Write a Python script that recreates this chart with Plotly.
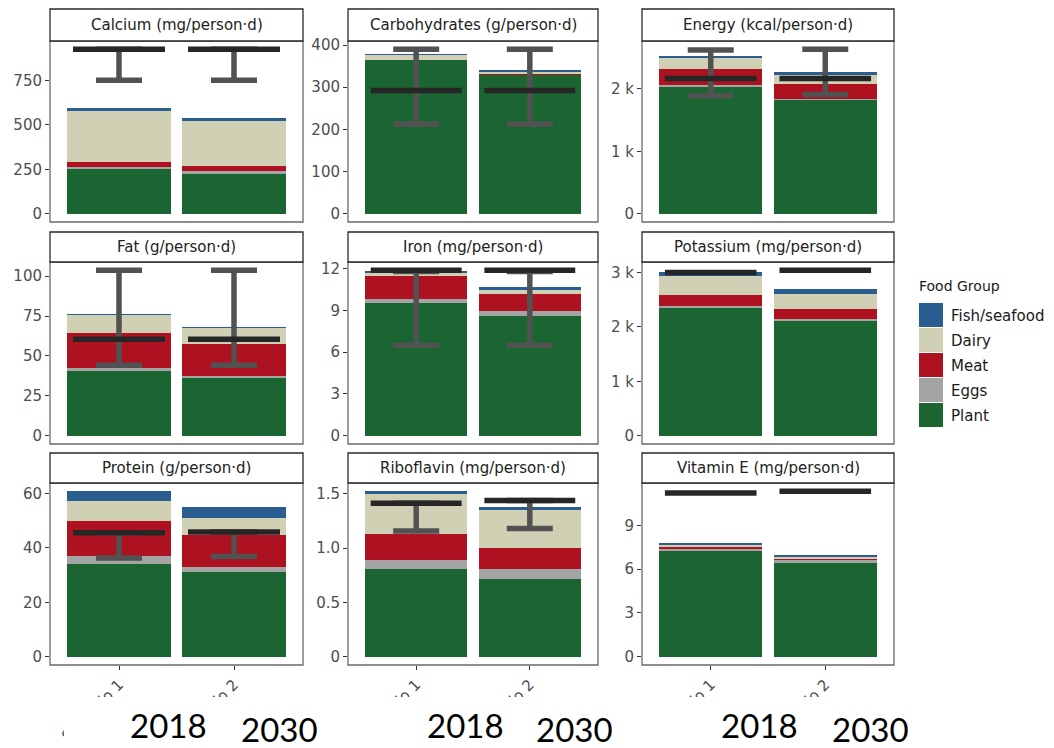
import plotly.graph_objects as go

W, H = 1054, 748

# Nutrient panels, in facet order (left to right, top to bottom)
NUTRIENTS = [
    "Calcium (mg/person·d)", "Carbohydrates (g/person·d)", "Energy (kcal/person·d)",
    "Fat (g/person·d)", "Iron (mg/person·d)", "Potassium (mg/person·d)",
    "Protein (g/person·d)", "Riboflavin (mg/person·d)", "Vitamin E (mg/person·d)",
]
SCENARIOS = ["Scenario 1", "Scenario 2"]
YEARS = ["2018", "2030"]

# Supply per food group, (scenario 1, scenario 2) for each nutrient
PLANT = [(257, 229), (365, 330), (2025, 1825), (40.4, 36.3), (9.5, 8.6),
         (2343, 2117), (34.0, 31.0), (0.805, 0.716), (7.25, 6.44)]
EGGS = [(6, 9), (0.2, 0.3), (38, 21), (2.1, 1.3), (0.3, 0.36),
        (37, 31), (2.9, 1.9), (0.085, 0.092), (0.12, 0.23)]
MEAT = [(30, 28), (0.2, 0.4), (248, 227), (21.8, 19.9), (1.68, 1.21),
        (206, 177), (13.0, 11.8), (0.238, 0.192), (0.2, 0.09)]
DAIRY = [(285, 257), (12, 7.5), (191, 154), (11.6, 10.3), (0.2, 0.29),
         (352, 279), (7.3, 6.4), (0.372, 0.347), (0.09, 0.08)]
FISH = [(15, 13), (0.4, 3), (15, 48), (0.3, 0.3), (0.15, 0.23),
        (73, 86), (3.6, 3.8), (0.024, 0.031), (0.1, 0.12)]

# Requirement (dark bar) and requirement range (grey error bar)
REQUIREMENT = [(925, 925), (292, 292), (2168, 2168), (60.4, 60.4), (11.88, 11.88),
               (3000, 3042), (45.6, 45.8), (1.414, 1.439), (11.22, 11.33)]
REQ_LOW = [(750, 750), (212, 212), (1889, 1910), (44.2, 44.2), (6.49, 6.49),
           (None, None), (36.3, 36.8), (1.158, 1.18), (None, None)]
REQ_HIGH = [(925, 925), (390, 390), (2624, 2635), (103.7, 103.7), (11.8, 11.8),
            (None, None), (45.6, 45.8), (1.414, 1.439), (None, None)]

# Y tick values and labels per panel
TICK_VALS = [[0, 250, 500, 750], [0, 100, 200, 300, 400], [0, 1000, 2000],
             [0, 25, 50, 75, 100], [0, 3, 6, 9, 12], [0, 1000, 2000, 3000],
             [0, 20, 40, 60], [0, 0.5, 1.0, 1.5], [0, 3, 6, 9]]
TICK_TEXT = [["0", "250", "500", "750"], ["0", "100", "200", "300", "400"],
             ["0", "1 k", "2 k"], ["0", "25", "50", "75", "100"],
             ["0", "3", "6", "9", "12"], ["0", "1 k", "2 k", "3 k"],
             ["0", "20", "40", "60"], ["0", "0.5", "1.0", "1.5"], ["0", "3", "6", "9"]]

GROUPS = ["Plant", "Eggs", "Meat", "Dairy", "Fish/seafood"]
GROUP_DATA = [PLANT, EGGS, MEAT, DAIRY, FISH]
GROUP_COLORS = ["#1a6532", "#a4a4a4", "#ae111f", "#d0d0b5", "#2a5d90"]
LEGEND_ORDER = ["Fish/seafood", "Dairy", "Meat", "Eggs", "Plant"]

# Panel geometry in pixels
COL_X = [(50, 303), (348, 598), (642, 894)]
ROW_Y = [(41, 222), (262, 444), (483, 665)]
STRIP_Y = [(9, 41), (232, 262), (453, 483)]

FONT = "DejaVu Sans"
X_POS = [1, 2]
BAR_W = 0.9
REQ_HALF = 0.4


def px(x):
    return x / W


def py(y):
    return 1 - y / H


fig = go.Figure()
layout = dict(
    width=W, height=H, margin=dict(l=0, r=0, t=0, b=0, autoexpand=False),
    paper_bgcolor="white", plot_bgcolor="white",
    barmode="stack", showlegend=False,
    shapes=[], annotations=[],
)

for i, name in enumerate(NUTRIENTS):
    r, c = divmod(i, 3)
    n = "" if i == 0 else str(i + 1)
    xa, ya = "x" + n, "y" + n

    for g, data, col in zip(GROUPS, GROUP_DATA, GROUP_COLORS):
        fig.add_trace(go.Bar(
            x=X_POS, y=list(data[i]), width=BAR_W, name=g,
            marker=dict(color=col, line=dict(width=0)),
            xaxis=xa, yaxis=ya,
        ))

    totals = [sum(d[i][k] for d in GROUP_DATA) for k in range(2)]
    tops = totals + list(REQUIREMENT[i]) + [v for v in REQ_HIGH[i] if v is not None]
    top = max(tops)

    # requirement range as error bars
    ex, ey, eh = [], [], []
    for k in range(2):
        lo, hi = REQ_LOW[i][k], REQ_HIGH[i][k]
        if lo is None:
            continue
        ex.append(X_POS[k])
        ey.append((lo + hi) / 2)
        eh.append((hi - lo) / 2)
    if ex:
        fig.add_trace(go.Scatter(
            x=ex, y=ey, mode="markers", marker=dict(size=1, opacity=0),
            error_y=dict(type="data", array=eh, visible=True, color="#525252",
                         thickness=5.5, width=23),
            xaxis=xa, yaxis=ya, hoverinfo="skip",
        ))

    # requirement level as a wide dark bar
    sx, sy = [], []
    for k in range(2):
        v = REQUIREMENT[i][k]
        sx += [X_POS[k] - REQ_HALF, X_POS[k] + REQ_HALF, None]
        sy += [v, v, None]
    fig.add_trace(go.Scatter(
        x=sx, y=sy, mode="lines", line=dict(color="#262626", width=5.5),
        xaxis=xa, yaxis=ya, hoverinfo="skip",
    ))

    x0, x1 = COL_X[c]
    y0, y1 = ROW_Y[r]
    layout["xaxis" + n] = dict(
        domain=[px(x0), px(x1)], anchor=ya, range=[0.4, 2.6],
        tickvals=X_POS, ticktext=SCENARIOS, automargin=False,
        showticklabels=(r == 2), ticks="outside" if r == 2 else "",
        ticklen=4, tickcolor="#333333", tickangle=-45,
        tickfont=dict(family=FONT, size=15, color="#4d4d4d"),
        showgrid=False, zeroline=False, showline=False,
    )
    layout["yaxis" + n] = dict(
        domain=[py(y1), py(y0)], anchor=xa, range=[-0.05 * top, 1.05 * top],
        tickvals=TICK_VALS[i], ticktext=TICK_TEXT[i], automargin=False,
        ticks="outside", ticklen=4, tickcolor="#333333", tickwidth=1.1,
        tickfont=dict(family=FONT, size=15, color="#4d4d4d"),
        showgrid=False, zeroline=False, showline=False,
    )

    # panel border
    layout["shapes"].append(dict(
        type="rect", xref="paper", yref="paper", layer="above",
        x0=px(x0), x1=px(x1), y0=py(y1), y1=py(y0),
        line=dict(color="#6a6a6a", width=1.3), fillcolor="rgba(0,0,0,0)",
    ))
    # facet strip
    s0, s1 = STRIP_Y[r]
    layout["shapes"].append(dict(
        type="rect", xref="paper", yref="paper", layer="above",
        x0=px(x0), x1=px(x1), y0=py(s1), y1=py(s0),
        line=dict(color="#2a2a2a", width=1.3), fillcolor="white",
    ))
    layout["annotations"].append(dict(
        text=name, xref="paper", yref="paper", showarrow=False,
        x=px((x0 + x1) / 2), y=py((s0 + s1) / 2),
        xanchor="center", yanchor="middle",
        font=dict(family=FONT, size=15, color="#222222"),
    ))

# white band over the lower x labels, with the year labels on top
layout["shapes"].append(dict(
    type="rect", xref="paper", yref="paper", layer="above",
    x0=px(64), x1=1, y0=0, y1=py(697),
    line=dict(width=0), fillcolor="white",
))
YEAR_SHIFT = [49, 45]
YEAR_Y = [725, 729]
for c, (x0, x1) in enumerate(COL_X):
    span = (x1 - x0) / 2.2
    for k, yr in enumerate(YEARS):
        cx = x0 + (X_POS[k] - 0.4) * span + YEAR_SHIFT[k]
        layout["annotations"].append(dict(
            text=yr, xref="paper", yref="paper", showarrow=False,
            x=px(cx), y=py(YEAR_Y[k]), xanchor="center", yanchor="middle",
            font=dict(family="Lato", size=33, color="black"),
        ))

# legend
layout["annotations"].append(dict(
    text="Food Group", xref="paper", yref="paper", showarrow=False,
    x=px(917), y=py(286), xanchor="left", yanchor="middle",
    font=dict(family=FONT, size=14, color="#1a1a1a"),
))
for j, g in enumerate(LEGEND_ORDER):
    col = GROUP_COLORS[GROUPS.index(g)]
    top_px = 303 + j * 25
    layout["shapes"].append(dict(
        type="rect", xref="paper", yref="paper",
        x0=px(919), x1=px(943), y0=py(top_px + 24), y1=py(top_px),
        line=dict(width=0), fillcolor=col,
    ))
    layout["annotations"].append(dict(
        text=g, xref="paper", yref="paper", showarrow=False,
        x=px(949), y=py(top_px + 12.5), xanchor="left", yanchor="middle",
        font=dict(family=FONT, size=15, color="#1a1a1a"),
    ))

fig.update_layout(**layout)
fig.write_html("out.html")
